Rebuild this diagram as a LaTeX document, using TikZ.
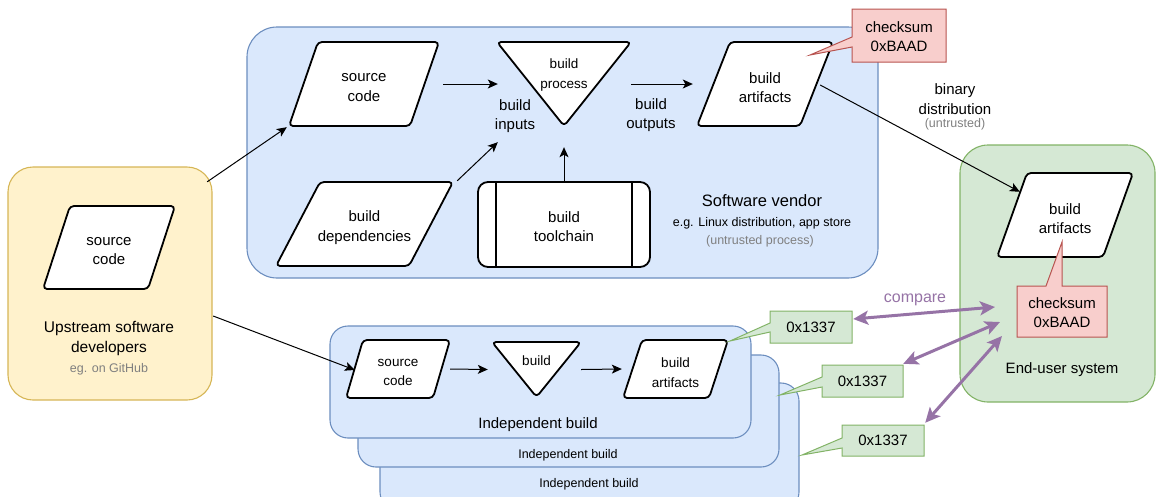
\documentclass[tikz,border=0pt]{standalone}
\usepackage{fontspec}
\setmainfont{Liberation Sans}
\usetikzlibrary{arrows.meta,calc}
\definecolor{bluefill}{HTML}{DAE8FC}
\definecolor{bluedraw}{HTML}{6C8EBF}
\definecolor{yelfill}{HTML}{FFF2CC}
\definecolor{yeldraw}{HTML}{D6B656}
\definecolor{grnfill}{HTML}{D5E8D4}
\definecolor{grndraw}{HTML}{82B366}
\definecolor{redfill}{HTML}{F8CECC}
\definecolor{reddraw}{HTML}{B85450}
\definecolor{purp}{HTML}{9673A6}
\definecolor{graytxt}{HTML}{808080}
\tikzset{
  container/.style={line width=1.1pt, rounded corners=#1},
  shp/.style={draw=black, fill=white, line width=1.8pt, rounded corners=4pt, line join=round},
  lbl/.style={inner sep=0pt, align=center, font=\fontsize{15}{19.5}\selectfont},
  smalllbl/.style={inner sep=0pt, align=center, font=\fontsize{13.5}{19.5}\selectfont},
  tinylbl/.style={inner sep=0pt, align=center, font=\fontsize{12.5}{16}\selectfont},
  graylbl/.style={tinylbl, text=graytxt},
  arr/.style={-{Stealth[length=10pt,width=9pt,inset=2.5pt]}, line width=1pt},
  cmp/.style={{Stealth[length=15pt,width=14pt,inset=3.5pt]}-{Stealth[length=15pt,width=14pt,inset=3.5pt]}, line width=3pt, draw=purp},
  greencall/.style={fill=grnfill, draw=grndraw, line width=1pt, line join=miter},
  redcall/.style={fill=redfill, draw=reddraw, line width=1pt, line join=miter},
}
% parallelogram: name, cx, cy, w, h, skew, style, text
\newcommand\pgram[8]{%
  \draw[shp] (#2-#4/2+#6,#3-#5/2) -- (#2+#4/2,#3-#5/2) -- (#2+#4/2-#6,#3+#5/2) -- (#2-#4/2,#3+#5/2) -- cycle;
  \node[inner sep=0pt, minimum width=#4, minimum height=#5] (#1) at (#2,#3) {};
  \node[#7] (#1txt) at (#2,#3+3.5) {#8};
}
% downward triangle: name, cx, cy, w, h
\newcommand\dtri[5]{%
  \draw[shp] (#2-#4/2,#3-#5/2) -- (#2+#4/2,#3-#5/2) -- (#2,#3+#5/2) -- cycle;
  \node[inner sep=0pt, minimum width=#4, minimum height=#5] (#1) at (#2,#3) {};
}
\begin{document}
\begin{tikzpicture}[x=1pt,y=-1pt]
\useasboundingbox (0,0) rectangle (1156,496);

% ---------- containers ----------
\draw[container=30pt, fill=bluefill, draw=bluedraw] (247,27) rectangle (878,278);
\node[inner sep=0pt, minimum width=631, minimum height=251] (vendor) at (562.5,152.5) {};
\draw[container=25pt, fill=yelfill, draw=yeldraw] (8,167) rectangle (212,400);
\node[inner sep=0pt, minimum width=204, minimum height=233] (upbox) at (110,283.5) {};
\draw[container=28pt, fill=grnfill, draw=grndraw] (960,145) rectangle (1155,402);
\node[inner sep=0pt, minimum width=195, minimum height=257] (endbox) at (1057.5,273.5) {};

\draw[container=18pt, fill=bluefill, draw=bluedraw] (380,383) rectangle (799,510);
\draw[container=18pt, fill=bluefill, draw=bluedraw] (358,355) rectangle (779,467);
\draw[container=18pt, fill=bluefill, draw=bluedraw] (330,326) rectangle (751,438);
\node[inner sep=0pt, minimum width=421, minimum height=112] (ib1) at (540.5,382) {};

% ---------- container labels ----------
\node[lbl, font=\fontsize{16.5}{20}\selectfont] (vname) at (762,201) {Software vendor};
\node[tinylbl] (vsub) at (762,223) {e.g. Linux distribution, app store};
\node[graylbl] (vsub2) at (760,241) {(untrusted process)};
\node[lbl, font=\fontsize{15.5}{20}\selectfont] (upname) at (109,338) {Upstream software\\developers};
\node[graylbl] (upsub) at (109,369) {eg. on GitHub};
\node[lbl] (euname) at (1062,370) {End-user system};
\node[lbl] (ibl1) at (538,425) {Independent build};
\node[tinylbl] (ibl2) at (568,455) {Independent build};
\node[tinylbl] (ibl3) at (589,484) {Independent build};

% ---------- vendor shapes ----------
\pgram{vsc}{364}{84}{150}{84}{29}{lbl}{source\\code}
\pgram{deps}{364.5}{224}{177}{84}{44}{lbl}{build\\dependencies}
\dtri{bp}{564}{84}{134}{84}
\node[smalllbl] (bptxt) at (564,75) {build\\process};
\node[lbl] (binp) at (515,116) {build\\inputs};
\node[lbl] (bout) at (651,115) {build\\outputs};
\pgram{va}{765}{84}{136}{84}{33}{lbl}{build\\artifacts}
% toolchain
\draw[shp, rounded corners=10pt] (478,182) rectangle (650,267);
\draw[line width=1.8pt] (496,182) -- (496,267) (632,182) -- (632,267);
\node[inner sep=0pt, minimum width=172, minimum height=85] (tc) at (564,224.5) {};
\node[lbl] (tctxt) at (564,226.5) {build\\toolchain};

% ---------- upstream / end-user shapes ----------
\pgram{usc}{109}{247.5}{132}{83}{27}{lbl}{source\\code}
\pgram{eua}{1065}{215}{136}{84}{30}{lbl}{build\\artifacts}

% ---------- independent build shapes ----------
\pgram{isc}{398}{369}{104}{58}{17}{smalllbl}{source\\code}
\dtri{ib}{536.5}{369.5}{89}{55}
\node[smalllbl] (ibtxt) at (536.5,361) {build};
\pgram{ia}{675.5}{369}{105}{58}{19}{smalllbl}{build\\artifacts}

% ---------- callouts ----------
\draw[redcall] (852,9) -- (946,9) -- (946,62) -- (852,62) -- (852,47) -- (810,55) -- (852,37) -- cycle;
\node[lbl, minimum width=94, minimum height=53] (cs1) at (899,36.5) {checksum\\0xBAAD};
\draw[redcall] (1017,286) -- (1046,286) -- (1062,242) -- (1062,286) -- (1107,286) -- (1107,337) -- (1017,337) -- cycle;
\node[lbl, minimum width=90, minimum height=51] (cs2) at (1062,312.5) {checksum\\0xBAAD};

\draw[greencall] (770,311) -- (852,311) -- (852,343) -- (770,343) -- (770,332) -- (730,341) -- (770,323) -- cycle;
\node[lbl, minimum width=82, minimum height=32] (g1) at (811,327) {0x1337};
\draw[greencall] (822,365) -- (903,365) -- (903,397) -- (822,397) -- (822,387) -- (780,395) -- (822,377) -- cycle;
\node[lbl, minimum width=81, minimum height=32] (g2) at (862.5,381) {0x1337};
\draw[greencall] (842,425) -- (924,425) -- (924,456) -- (842,456) -- (842,448) -- (802,455) -- (842,438) -- cycle;
\node[lbl, minimum width=82, minimum height=31] (g3) at (883,440.5) {0x1337};

% ---------- connectors ----------
\draw[arr] ($(upbox.north east)+(-5,15)$) -- ($(vsc.south west)+(-2,1)$);
\draw[arr] ($(vsc.east)+(4,0)$) -- ($(bp.west)+(1,0)$);
\draw[arr] ($(deps.north east)+(4,-1)$) -- ($(bp.south west)+(1,16)$);
\draw[arr] (tc.north) -- ($(bp.south)+(0,21)$);
\draw[arr] (bp.east) -- ($(va.west)+(-4,0)$);
\draw[arr] ($(va.east)+(-13,1)$) -- ($(eua.north west)+(23,19)$);
\node[lbl] (bd) at (955,99) {binary\\distribution};
\node[graylbl] (bdu) at (955,124) {(untrusted)};

\draw[arr] ($(upbox.east)+(1,32.5)$) -- ($(isc.west)+(9,1)$);
\draw[arr] (isc.east) -- ($(ib.west)+(-4,0)$);
\draw[arr] (ib.east) -- ($(ia.west)+(-1,0)$);

% compare arrows
\coordinate (c1) at (995,307);
\coordinate (c2) at (1000,322);
\coordinate (c3) at (1002,336);
\draw[cmp] ($(g1.east)+(1,-8)$) -- (c1);
\draw[cmp] ($(g2.north east)+(0,-1)$) -- (c2);
\draw[cmp] ($(g3.north east)+(1,-2)$) -- (c3);
\node[lbl, text=purp, font=\fontsize{16}{19}\selectfont] (cmplbl) at (915,300) {compare};
\end{tikzpicture}
\end{document}
